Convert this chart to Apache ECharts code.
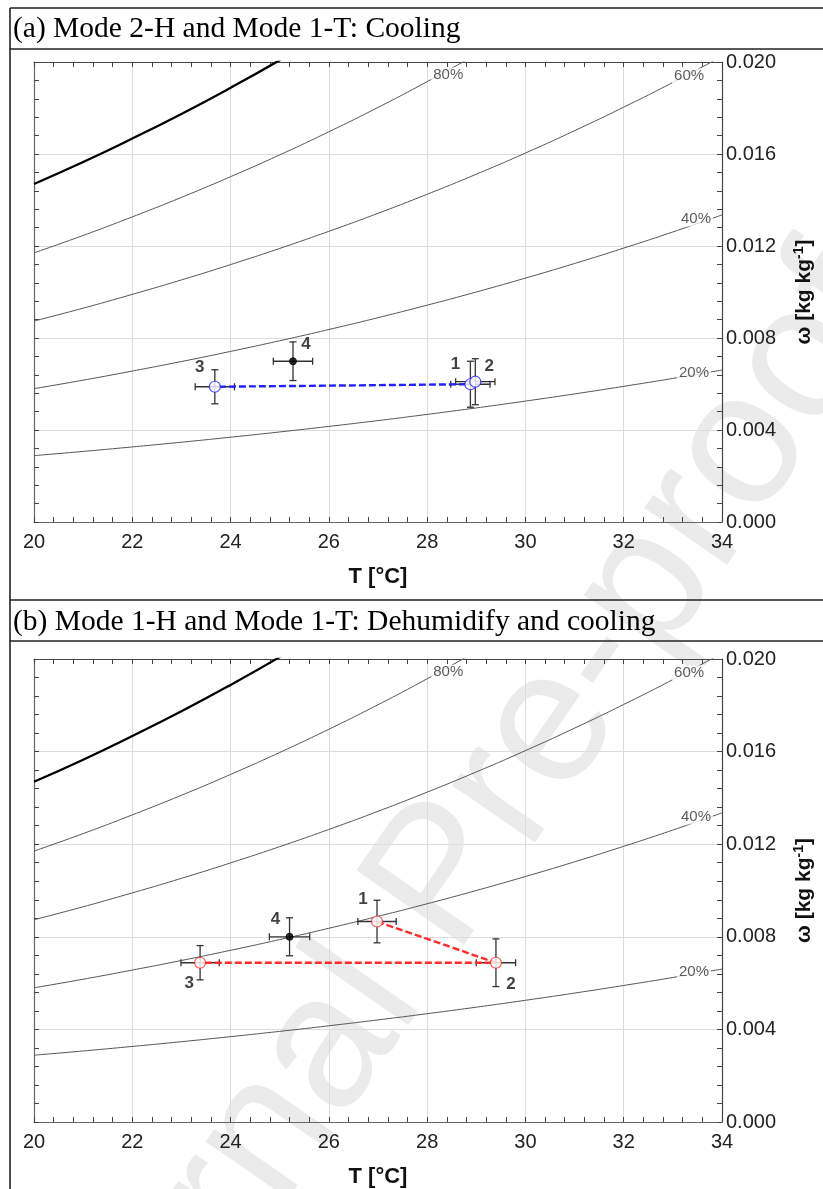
<!DOCTYPE html>
<html>
<head>
<meta charset="utf-8">
<script src="https://cdn.jsdelivr.net/npm/echarts@6/dist/echarts.min.js"></script>
<style>
html,body{margin:0;padding:0;background:#fff;}
#c{width:823px;height:1189px;}
</style>
</head>
<body>
<div id="c"></div>
<script>
// ---------- DATA ----------
// temperature grid for the relative-humidity curves [°C]
const T_GRID = [20,21,22,23,24,25,26,27,28,29,30,31,32,33,34];
// humidity ratio [kg/kg]
const RH100 = [0.014698,0.015651,0.016672,0.017742,0.018880,0.020081,0.021353];
const RH80  = [0.011703,0.012458,0.013266,0.014113,0.015013,0.015962,0.016966,0.018025,0.019145,0.020326];
const RH60  = [0.008736,0.009297,0.009897,0.010525,0.011192,0.011895,0.012638,0.013421,0.014249,0.015121,0.016042,0.017013,0.018037,0.019111,0.020248];
const RH40  = [0.005797,0.006167,0.006563,0.006977,0.007417,0.007880,0.008369,0.008884,0.009427,0.010000,0.010604,0.011239,0.011909,0.012611,0.013354];
const RH20  = [0.002885,0.003068,0.003264,0.003469,0.003687,0.003915,0.004156,0.004410,0.004678,0.004960,0.005257,0.005569,0.005898,0.006242,0.006606];
// curve labels
const RH_LABELS = ['80%','60%','40%','20%'];
const RH_LABEL_T = [28.43, 33.33, 33.47, 33.43];
const RH_LABEL_W = [0.01943, 0.01939, 0.01317, 0.00648];

// state points
const PT_NAMES = ['1','2','3','4'];
// (a) Mode 2-H and Mode 1-T
const A_T  = [28.88, 28.98, 23.68, 25.27];
const A_W  = [0.00599, 0.00610, 0.00588, 0.00699];
const A_DT = [0.40, 0.40, 0.40, 0.40];
const A_DW = [0.00100, 0.00100, 0.00074, 0.00084];
const A_PATH = [1, 0, 2];   // indices joined by the dashed line
// (b) Mode 1-H and Mode 1-T
const B_T  = [26.98, 29.40, 23.38, 25.20];
const B_W  = [0.00866, 0.00688, 0.00688, 0.00800];
const B_DT = [0.39, 0.40, 0.39, 0.41];
const B_DW = [0.00092, 0.00103, 0.00074, 0.00082];
const B_PATH = [0, 1, 2];

// axis ticks
const X_MIN = 20, X_MAX = 34, X_STEP = 2;
const Y_MIN = 0, Y_MAX = 0.020, Y_STEP = 0.004;

const TITLE_A = '(a) Mode 2-H and Mode 1-T: Cooling';
const TITLE_B = '(b) Mode 1-H and Mode 1-T: Dehumidify and cooling';
const X_NAME = 'T [°C]';
const WATERMARK = 'Journal Pre-proof';

// ---------- STYLE / LAYOUT ----------
const SANS = '"Liberation Sans", Arial, Helvetica, sans-serif';
const SERIF = '"Liberation Serif", "Times New Roman", serif';
const LABEL_OFF_A = [[-15,-20],[14,-15],[-15,-19],[13,-17]];
const LABEL_OFF_B = [[-14,-22],[15,22],[-11,21],[-14,-17]];

const chart = echarts.init(document.getElementById('c'), null, {renderer:'canvas'});

function xAxes(g){
  const common = {
    gridIndex:g, type:'value', min:X_MIN, max:X_MAX, interval:X_STEP,
    axisTick:{show:true, inside:true, length:5, lineStyle:{color:'#444', width:1}},
    minorTick:{show:true, splitNumber:5, length:5, lineStyle:{color:'#444', width:1}},
    minorSplitLine:{show:false}
  };
  return [
    Object.assign({}, common, {
      position:'bottom',
      axisLine:{show:true, onZero:false, lineStyle:{color:'#666', width:1.2}},
      splitLine:{show:true, lineStyle:{color:'#dcdcdc', width:1}},
      axisLabel:{show:true, fontSize:20, color:'#222', fontFamily:SANS, margin:10, showMinLabel:true, showMaxLabel:true},
      name:X_NAME, nameLocation:'middle', nameGap:44,
      nameTextStyle:{fontSize:22, fontWeight:'bold', color:'#111', fontFamily:SANS}
    }),
    Object.assign({}, common, {
      position:'top',
      axisLine:{show:true, onZero:false, lineStyle:{color:'#444', width:1.2}},
      splitLine:{show:false},
      axisLabel:{show:false}
    })
  ];
}
function yAxes(g){
  const common = {
    gridIndex:g, type:'value', min:Y_MIN, max:Y_MAX, interval:Y_STEP,
    axisTick:{show:true, inside:true, length:5, lineStyle:{color:'#444', width:1}},
    minorTick:{show:true, splitNumber:5, length:5, lineStyle:{color:'#444', width:1}},
    minorSplitLine:{show:false}
  };
  return [
    Object.assign({}, common, {
      position:'right',
      axisLine:{show:true, onZero:false, lineStyle:{color:'#444', width:1.2}},
      splitLine:{show:true, lineStyle:{color:'#dcdcdc', width:1}},
      axisLabel:{show:true, fontSize:20, color:'#222', fontFamily:SANS, margin:4,
        showMinLabel:true, showMaxLabel:true, formatter:v=>v.toFixed(3)},
      name:'{b|ω [kg kg}{s|-1}{b|]}', nameLocation:'middle', nameGap:70, nameRotate:90,
      nameTextStyle:{rich:{
        b:{fontSize:21, fontWeight:'bold', color:'#111', fontFamily:SANS, lineHeight:25},
        s:{fontSize:14, fontWeight:'bold', color:'#111', fontFamily:SANS, lineHeight:14, verticalAlign:'top'}
      }}
    }),
    Object.assign({}, common, {
      position:'left',
      axisLine:{show:true, onZero:false, lineStyle:{color:'#666', width:1.2}},
      splitLine:{show:false},
      axisLabel:{show:false}
    })
  ];
}

function pairs(arr){ return arr.map((w,i)=>[T_GRID[i], w]); }

function errItem(params, api){
  const x=api.value(0), y=api.value(1), dx=api.value(2), dy=api.value(3);
  const l=api.coord([x-dx,y]), r=api.coord([x+dx,y]);
  const t=api.coord([x,y+dy]), b=api.coord([x,y-dy]);
  const c=3.5;
  const st={stroke:'#333', lineWidth:1.3};
  const L=(x1,y1,x2,y2)=>({type:'line', shape:{x1,y1,x2,y2}, style:st});
  return {type:'group', children:[
    L(l[0],l[1],r[0],r[1]), L(l[0],l[1]-c,l[0],l[1]+c), L(r[0],r[1]-c,r[0],r[1]+c),
    L(t[0],t[1],b[0],b[1]), L(t[0]-c,t[1],t[0]+c,t[1]), L(b[0]-c,b[1],b[0]+c,b[1])
  ]};
}

function panelSeries(g, T, W, DT, DW, path, color, offs){
  const xi = g*2, yi = g*2;
  const s = [];
  const curves = [RH100, RH80, RH60, RH40, RH20];
  curves.forEach((c,k)=>{
    s.push({type:'line', xAxisIndex:xi, yAxisIndex:yi, data:pairs(c), smooth:true, symbol:'none',
      clip:true, silent:true, z:2,
      lineStyle:{color: k===0 ? '#000' : '#555', width: k===0 ? 2.3 : 1}});
  });
  s.push({type:'scatter', xAxisIndex:xi, yAxisIndex:yi, symbolSize:1, silent:true, z:3,
    itemStyle:{color:'rgba(0,0,0,0)'},
    data: RH_LABELS.map((n,i)=>({value:[RH_LABEL_T[i], RH_LABEL_W[i]], name:n})),
    label:{show:true, position:'inside', formatter:p=>p.name, fontSize:15, color:'#333',
      fontFamily:SANS, backgroundColor:'#fff', padding:[0,2]}});
  s.push({type:'custom', xAxisIndex:xi, yAxisIndex:yi, renderItem:errItem, z:4, silent:true,
    encode:{x:0, y:1},
    data: T.map((t,i)=>[t, W[i], DT[i], DW[i]])});
  s.push({type:'line', xAxisIndex:xi, yAxisIndex:yi, symbol:'none', z:5, silent:true,
    lineStyle:{color:color, width:2.4, type:[7,3]},
    data: path.map(i=>[T[i], W[i]])});
  s.push({type:'scatter', xAxisIndex:xi, yAxisIndex:yi, z:6, silent:true,
    data: T.map((t,i)=>({
      value:[t, W[i]], name:PT_NAMES[i],
      symbolSize: i===3 ? 7 : 11,
      itemStyle: i===3 ? {color:'#000', borderColor:'#000', borderWidth:1}
                       : {color:'#fff', borderColor:color, borderWidth:1.2},
      label:{show:true, position:'inside', offset:offs[i], formatter:PT_NAMES[i],
        fontSize:17, fontWeight:'bold', color:'#111', fontFamily:SANS}
    }))});
  return s;
}

const BLUE = '#2222ff', RED = '#ff2a2a';
const series = [].concat(
  panelSeries(0, A_T, A_W, A_DT, A_DW, A_PATH, BLUE, LABEL_OFF_A),
  panelSeries(1, B_T, B_W, B_DT, B_DW, B_PATH, RED, LABEL_OFF_B)
);

const lineStyle = {stroke:'#222', lineWidth:1.6};
const option = {
  animation:false,
  backgroundColor:'#fff',
  grid:[
    {left:34, top:62, width:691, height:460},
    {left:34, top:659, width:692, height:463}
  ],
  xAxis: xAxes(0).concat(xAxes(1)),
  yAxis: yAxes(0).concat(yAxes(1)),
  series: series,
  graphic:[
    {type:'text', z:-10, x:445, y:880, rotation:55.3*Math.PI/180,
      style:{text:WATERMARK, font:'190px ' + SANS, fill:'#ebebeb', align:'center', verticalAlign:'middle'}},
    {type:'line', shape:{x1:10, y1:8, x2:823, y2:8}, style:lineStyle},
    {type:'line', shape:{x1:10, y1:49, x2:823, y2:49}, style:lineStyle},
    {type:'line', shape:{x1:10, y1:600, x2:823, y2:600}, style:lineStyle},
    {type:'line', shape:{x1:10, y1:641, x2:823, y2:641}, style:lineStyle},
    {type:'line', shape:{x1:10, y1:8, x2:10, y2:1189}, style:lineStyle},
    {type:'text', x:13, y:29, style:{text:TITLE_A, font:'29.5px ' + SERIF, fill:'#000', verticalAlign:'middle'}},
    {type:'text', x:13, y:622, style:{text:TITLE_B, font:'29.5px ' + SERIF, fill:'#000', verticalAlign:'middle'}}
  ]
};
chart.setOption(option);
</script>
</body>
</html>
